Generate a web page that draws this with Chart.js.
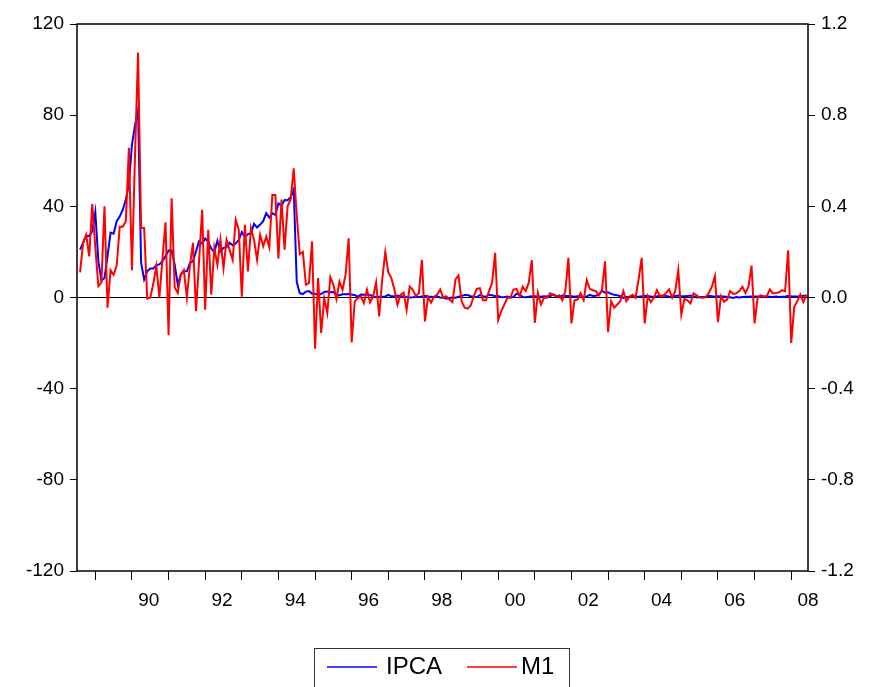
<!DOCTYPE html>
<html>
<head>
<meta charset="utf-8">
<script src="https://cdn.jsdelivr.net/npm/chart.js@4.4.1/dist/chart.umd.min.js"></script>
<style>
  html, body { margin: 0; padding: 0; background: #fff; }
  canvas { display: block; }
</style>
</head>
<body>
<canvas id="myChart" width="875" height="687"></canvas>
<script>
// monthly observations, first one is 1988:08, last one 2008:06
var startYear = 1988, startMonth = 8;

// IPCA, monthly inflation (%), left axis
var ipca = [
    21, 24, 27, 27, 29,                                                   // 1988
    37.5, 16, 7.5, 8.5, 18, 28.5, 28, 33.5, 35.5, 38.5, 43, 49.5,         // 1989
    67, 75.5, 82.4, 15.3, 7.9, 11.5, 12.7, 12.7, 14.2, 14.5, 15.9, 18.1,  // 1990
    20.6, 20.6, 14.5, 5.7, 10.1, 11.5, 11.5, 15.2, 15.9, 20.3, 24.7, 23.7,// 1991
    25.9, 24.3, 21.4, 19.9, 24.9, 20.2, 21.8, 22.1, 24.0, 22.9, 23.7, 25.2,// 1992
    28.7, 26.5, 27.8, 28.2, 32.3, 30.7, 32.0, 33.5, 37.0, 35.1, 37.0, 36.2,// 1993
    41.3, 40.3, 42.8, 42.7, 44.0, 47.4, 6.8, 1.9, 1.5, 2.6, 2.8, 1.7,     // 1994
    1.70, 1.02, 1.55, 2.43, 2.67, 2.26, 2.36, 0.99, 0.99, 1.41, 1.47, 1.56,   // 1995
    1.34, 1.03, 0.35, 1.26, 1.22, 1.19, 1.11, 0.44, 0.15, 0.30, 0.32, 0.47,   // 1996
    1.18, 0.50, 0.51, 0.88, 0.41, 0.54, 0.22, -0.02, 0.06, 0.23, 0.17, 0.43,  // 1997
    0.71, 0.46, 0.34, 0.24, 0.50, 0.02, -0.12, -0.51, -0.22, 0.02, -0.12, 0.33, // 1998
    0.70, 1.05, 1.10, 0.56, 0.30, 0.19, 1.09, 0.56, 0.31, 1.19, 0.95, 0.60,   // 1999
    0.62, 0.13, 0.22, 0.42, 0.01, 0.23, 1.61, 1.31, 0.23, 0.14, 0.32, 0.59,   // 2000
    0.57, 0.46, 0.38, 0.58, 0.41, 0.52, 1.33, 0.70, 0.28, 0.83, 0.71, 0.65,   // 2001
    0.52, 0.36, 0.60, 0.80, 0.21, 0.42, 1.19, 0.65, 0.72, 1.31, 3.02, 2.10,   // 2002
    2.25, 1.57, 1.23, 0.97, 0.61, -0.15, 0.20, 0.34, 0.78, 0.29, 0.34, 0.52,  // 2003
    0.76, 0.61, 0.47, 0.37, 0.51, 0.71, 0.91, 0.69, 0.33, 0.44, 0.69, 0.86,   // 2004
    0.58, 0.59, 0.61, 0.87, 0.49, -0.02, 0.25, 0.17, 0.35, 0.75, 0.55, 0.36,  // 2005
    0.59, 0.41, 0.43, 0.21, 0.10, -0.21, 0.19, 0.05, 0.21, 0.33, 0.31, 0.48,  // 2006
    0.44, 0.44, 0.37, 0.25, 0.28, 0.28, 0.24, 0.47, 0.18, 0.30, 0.38, 0.74,   // 2007
    0.54, 0.49, 0.48, 0.55, 0.79, 0.74                                        // 2008
];

// M1, monthly growth rate, right axis
var m1 = [
    0.11, 0.24, 0.275, 0.18, 0.41,                                                    // 1988
    0.22, 0.05, 0.065, 0.40, -0.045, 0.12, 0.10, 0.14, 0.31, 0.31, 0.335, 0.657,      // 1989
    0.12, 0.62, 1.075, 0.305, 0.305, -0.005, 0.0, 0.06, 0.137, 0.0, 0.17, 0.33,       // 1990
    -0.165, 0.435, 0.045, 0.02, 0.10, 0.12, 0.0, 0.14, 0.24, -0.06, 0.16, 0.385,      // 1991
    -0.054, 0.297, 0.012, 0.217, 0.143, 0.253, 0.129, 0.253, 0.209, 0.165, 0.341, 0.297, // 1992
    0.004, 0.319, 0.114, 0.304, 0.253, 0.165, 0.275, 0.225, 0.268, 0.22, 0.45, 0.45,  // 1993
    0.17, 0.43, 0.21, 0.40, 0.43, 0.567, 0.36, 0.19, 0.20, 0.056, 0.063, 0.246,       // 1994
    -0.225, 0.085, -0.156, -0.003, -0.069, 0.089, 0.056, -0.007, 0.07, 0.034, 0.10, 0.26, // 1995
    -0.197, -0.017, -0.003, 0.004, -0.025, 0.034, -0.022, 0.004, 0.066, -0.083, 0.078, 0.199, // 1996
    0.11, 0.085, 0.034, -0.032, 0.012, 0.022, -0.054, 0.048, 0.034, 0.007, 0.019, 0.165, // 1997
    -0.105, 0.002, -0.022, 0.004, 0.013, 0.035, -0.001, 0.006, -0.009, -0.02, 0.079, 0.096, // 1998
    -0.016, -0.045, -0.049, -0.035, 0.006, 0.038, 0.041, -0.012, -0.012, 0.028, 0.064, 0.196, // 1999
    -0.099, -0.06, -0.031, -0.001, -0.001, 0.035, 0.038, 0.006, 0.047, 0.028, 0.064, 0.164, // 2000
    -0.111, 0.02, -0.031, -0.001, -0.001, 0.019, 0.013, 0.003, 0.01, -0.012, 0.028, 0.174, // 2001
    -0.114, -0.012, -0.009, 0.019, -0.012, 0.076, 0.038, 0.032, 0.028, 0.009, 0.032, 0.159, // 2002
    -0.152, -0.016, -0.045, -0.031, -0.016, 0.028, -0.016, 0.003, 0.012, -0.001, 0.079, 0.174, // 2003
    -0.114, 0.006, -0.02, -0.001, 0.032, 0.006, 0.006, 0.02, 0.035, -0.001, 0.028, 0.12, // 2004
    -0.075, -0.006, -0.012, -0.026, 0.018, 0.009, 0, -0.001, 0.001, 0.02, 0.047, 0.094, // 2005
    -0.108, 0.006, -0.019, -0.009, 0.028, 0.016, 0.018, 0.028, 0.047, 0.02, 0.047, 0.14, // 2006
    -0.114, -0.001, 0.009, 0.006, 0.006, 0.035, 0.018, 0.02, 0.023, 0.032, 0.028, 0.207, // 2007
    -0.199, -0.041, -0.016, 0.013, -0.02, 0.013                                         // 2008
];

var tickYears = [1989, 1990, 1991, 1992, 1993, 1994, 1995, 1996, 1997, 1998,
                 1999, 2000, 2001, 2002, 2003, 2004, 2005, 2006, 2007, 2008];
var labelYears = [1990, 1992, 1994, 1996, 1998, 2000, 2002, 2004, 2006, 2008];
var leftTicks = [-120, -80, -40, 0, 40, 80, 120];
var rightTicks = [-1.2, -0.8, -0.4, 0.0, 0.4, 0.8, 1.2];

// months counted from 1988:07
function monthIndex(year, month) {
    return (year - 1988) * 12 + (month - 7);
}

function toPoints(values) {
    var first = monthIndex(startYear, startMonth);
    return values.map(function(v, i) { return { x: first + i, y: v }; });
}

var labelAt = {};
labelYears.forEach(function(y) {
    labelAt[monthIndex(y, 1) + 5.5] = String(y).slice(2);
});

var fontFamily = '"Liberation Sans", Arial, sans-serif';
var font = { family: fontFamily, size: 19 };

// plot frame and the boxed legend under the axis
var framePlugin = {
    id: 'frame',
    afterDraw: function(chart) {
        var c = chart.ctx, a = chart.chartArea;
        c.save();
        c.strokeStyle = '#000';
        c.lineWidth = 1.5;
        c.strokeRect(a.left, a.top, a.right - a.left, a.bottom - a.top);

        c.lineWidth = 1;
        c.strokeStyle = '#333';
        c.strokeRect(314.5, 648.5, 255, 60);
        c.font = '24px ' + fontFamily;
        c.textBaseline = 'middle';
        c.fillStyle = '#000';
        var items = [[327, 386], [467, 521]];
        chart.data.datasets.slice().reverse().forEach(function(ds, k) {
            c.strokeStyle = ds.borderColor;
            c.lineWidth = 1.5;
            c.beginPath();
            c.moveTo(items[k][0], 667);
            c.lineTo(items[k][0] + 50, 667);
            c.stroke();
            c.fillText(ds.label, items[k][1], 667);
        });
        c.restore();
    }
};

var ctx = document.getElementById('myChart').getContext('2d');
var myChart = new Chart(ctx, {
    type: 'line',
    data: {
        datasets: [{
            label: 'M1',
            data: toPoints(m1),
            yAxisID: 'y1',
            borderColor: '#ff0000',
            borderWidth: 2,
            pointRadius: 0,
            order: 0
        }, {
            label: 'IPCA',
            data: toPoints(ipca),
            yAxisID: 'y',
            borderColor: '#0000ff',
            borderWidth: 2,
            pointRadius: 0,
            order: 1
        }]
    },
    plugins: [framePlugin],
    options: {
        responsive: false,
        animation: false,
        devicePixelRatio: 1,
        layout: { padding: { top: 24, bottom: 66, left: 0, right: 0 } },
        plugins: {
            legend: { display: false },
            tooltip: { enabled: false }
        },
        scales: {
            x: {
                type: 'linear',
                min: 0,
                max: 239.5,
                afterFit: function(scale) { scale.height = 50; },
                afterBuildTicks: function(scale) {
                    var t = tickYears.map(function(y) { return { value: monthIndex(y, 1) }; });
                    Object.keys(labelAt).forEach(function(k) { t.push({ value: +k }); });
                    scale.ticks = t;
                },
                border: { display: false },
                grid: {
                    drawOnChartArea: false,
                    tickLength: 9,
                    tickColor: function(c) {
                        return c.tick && labelAt[c.tick.value] ? 'rgba(0,0,0,0)' : '#000';
                    }
                },
                ticks: {
                    autoSkip: false,
                    maxRotation: 0,
                    padding: 9,
                    color: '#000',
                    font: font,
                    callback: function(v) { return labelAt[v] || ''; }
                }
            },
            y: {
                position: 'left',
                min: -120,
                max: 120,
                afterFit: function(scale) { scale.width = 77; },
                afterBuildTicks: function(scale) {
                    scale.ticks = leftTicks.map(function(v) { return { value: v }; });
                },
                border: { display: false },
                grid: {
                    tickLength: 7,
                    tickColor: '#000',
                    color: function(c) {
                        return c.tick && c.tick.value === 0 ? '#000' : 'rgba(0,0,0,0)';
                    }
                },
                ticks: { padding: 6, color: '#000', font: font }
            },
            y1: {
                position: 'right',
                min: -1.2,
                max: 1.2,
                afterFit: function(scale) { scale.width = 67; },
                afterBuildTicks: function(scale) {
                    scale.ticks = rightTicks.map(function(v) { return { value: v }; });
                },
                border: { display: false },
                grid: { drawOnChartArea: false, tickLength: 7, tickColor: '#000' },
                ticks: {
                    padding: 6,
                    color: '#000',
                    font: font,
                    callback: function(v) { return Math.abs(v) < 1e-9 ? '0.0' : v.toFixed(1); }
                }
            }
        }
    }
});
</script>
</body>
</html>
